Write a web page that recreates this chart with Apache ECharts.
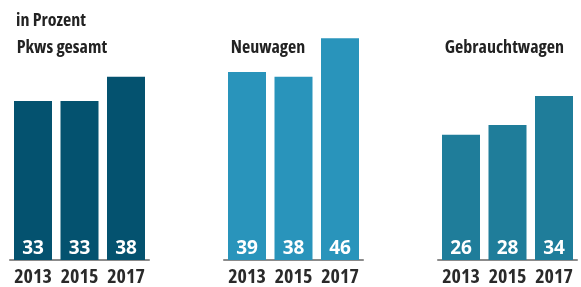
<!DOCTYPE html>
<html>
<head>
<meta charset="utf-8">
<script src="https://cdn.jsdelivr.net/npm/echarts@6/dist/echarts.min.js"></script>
<style>
    html, body { margin: 0; padding: 0; background: #fff; }
    #main { width: 581px; height: 287px; }
</style>
</head>
<body>
<div id="main"></div>
<script>
// Daten
var years = ['2013', '2015', '2017'];
var groupNames = ['Pkws gesamt', 'Neuwagen', 'Gebrauchtwagen'];
var pkwsGesamt = [33, 33, 38];
var neuwagen = [39, 38, 46];
var gebrauchtwagen = [26, 28, 34];

(function () {
    var myChart = echarts.init(document.getElementById('main'));
    var cond = '"Open Sans", sans-serif';
    var lefts = [9.75, 223.75, 437.75];
    var colors = ['#04526f', '#2994bb', '#1f7d9a'];
    var values = [pkwsGesamt, neuwagen, gebrauchtwagen];

    var grids = [], xAxes = [], yAxes = [], series = [], titles = [];

    // Untertitel
    titles.push({
        text: 'in Prozent',
        left: 11, top: 7,
        textStyle: { fontFamily: cond, fontSize: 18, fontWeight: 'bold condensed', color: '#222' }
    });

    for (var i = 0; i < 3; i++) {
        grids.push({ left: lefts[i], width: 139.5, top: 19, bottom: 27 });
        titles.push({
            text: groupNames[i],
            left: lefts[i] + 2, top: 34,
            textStyle: { fontFamily: cond, fontSize: 18, fontWeight: 'bold condensed', color: '#222' }
        });
        xAxes.push({
            type: 'category',
            gridIndex: i,
            data: years,
            axisTick: { show: false },
            axisLine: { lineStyle: { color: '#666', width: 1.5 } },
            axisLabel: { interval: 0, fontFamily: cond, fontSize: 20, color: '#2a2a2a', margin: 7, fontWeight: 'bold condensed' }
        });
        yAxes.push({
            type: 'value',
            gridIndex: i,
            min: 0, max: 50,
            show: false,
            splitLine: { show: false }
        });
        series.push({
            type: 'bar',
            xAxisIndex: i,
            yAxisIndex: i,
            data: values[i],
            barWidth: 38,
            itemStyle: { color: colors[i] },
            label: {
                show: true,
                position: 'insideBottom',
                distance: 2,
                color: '#fff',
                fontFamily: '"Open Sans", sans-serif',
                fontSize: 19,
                fontWeight: 'bold'
            }
        });
    }

    var option = {
        animation: false,
        title: titles,
        grid: grids,
        xAxis: xAxes,
        yAxis: yAxes,
        series: series
    };
    myChart.setOption(option);
}())
</script>
</body>
</html>
